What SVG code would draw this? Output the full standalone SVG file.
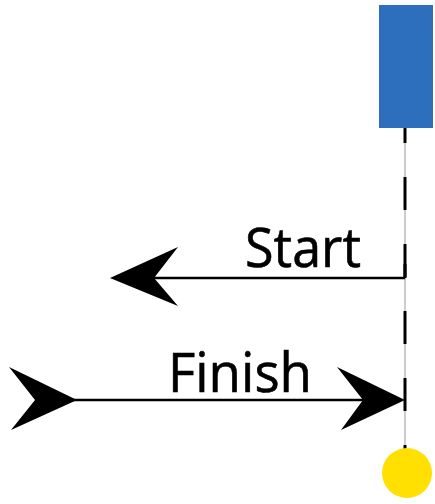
<svg xmlns="http://www.w3.org/2000/svg" width="435" height="504" viewBox="0 0 435 504">
<style>
.lbl{font-family:"Open Sans","Noto Sans",sans-serif;font-size:54px;fill:#000;stroke:#000;stroke-width:0.6}
.ln{stroke:#000;stroke-width:2.5;fill:none}
.head{fill:#000}
</style>
<rect width="435" height="504" fill="#fff"/>
<g id="lifeline">
<line x1="405" y1="128" x2="405" y2="450" stroke="#999" stroke-width="1"/>
<line x1="405" y1="110" x2="405" y2="450" stroke="#000" stroke-width="3" stroke-dasharray="33 34"/>
</g>
<g id="block"><rect x="379" y="5" width="54" height="123" fill="#2e6fbd"/></g>
<g id="endpoint"><circle cx="407" cy="473" r="25" fill="#ffe000"/></g>
<g id="connectors">
<g id="start">
<line class="ln" x1="405" y1="278" x2="150" y2="278"/>
<line x1="405" y1="264" x2="405" y2="278" stroke="#000" stroke-width="3"/>
<path class="head" d="M110,278 L178,247 L154,278 L178,306 Z"/>
</g>
<g id="finish">
<line class="ln" x1="70" y1="400" x2="368" y2="400"/>
<path class="head" d="M405,400 L337,367 L363,400 L341,430 Z"/>
<path class="head" d="M77,400 L9,367 L35,400 L11,430 Z"/>
</g>
</g>
<g id="labels">
<text class="lbl" x="245" y="267" textLength="116" lengthAdjust="spacingAndGlyphs">Start</text>
<text class="lbl" x="168" y="392" textLength="144" lengthAdjust="spacingAndGlyphs">Finish</text>
</g>
</svg>
